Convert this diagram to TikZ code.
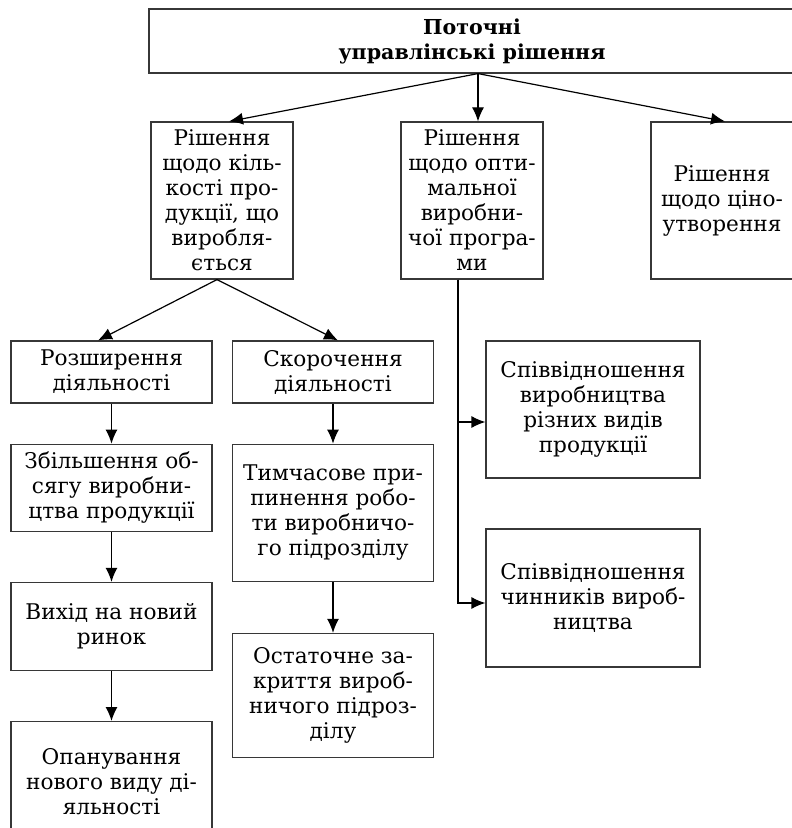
\documentclass[tikz,border=0pt]{standalone}
\usepackage{fontspec}
\setmainfont{DejaVu Serif}
\usetikzlibrary{arrows.meta,positioning,calc}
\definecolor{boxgray}{RGB}{55,55,55}

\begin{document}
\begin{tikzpicture}[
        x=0.5pt, y=-0.5pt,
        node distance=20pt,
        box/.style={rectangle, draw=boxgray, line width=0.6pt, inner sep=0pt, align=center,
            font=\fontsize{10.8pt}{12.5pt}\selectfont},
        topbox/.style={box, minimum width=71pt, minimum height=78.5pt},
        leftbox/.style={box, minimum width=100.5pt},
        sidebox/.style={box, minimum width=107pt},
        arrow/.style={-{Latex[length=7pt,width=6pt]}, line width=0.6pt}
    ]
        \useasboundingbox (0,0) rectangle (791,828);

        % Nodes
        \node[box, minimum width=323pt, minimum height=32pt,
            font=\fontsize{10.3pt}{12.5pt}\selectfont\bfseries] (root) at (472,41)
            {Поточні\\управлінські рішення};

        \node[topbox] (quant) at (222,200.5) {Рішення\\щодо кіль-\\кості про-\\дукції, що\\виробля-\\ється};
        \node[topbox] (prog) at (472,200.5) {Рішення\\щодо опти-\\мальної\\виробни-\\чої програ-\\ми};
        \node[topbox] (price) at (722,200.5) {Рішення\\щодо ціно-\\утворення};

        \node[leftbox, minimum height=31pt] (expand) at (111.5,372) {Розширення\\діяльності};
        \node[leftbox, minimum height=31pt] (shrink) at (333,372) {Скорочення\\діяльності};

        \node[leftbox, minimum height=43.5pt, below=of expand] (volume) {Збільшення об-\\сягу виробни-\\цтва продукції};
        \node[leftbox, minimum height=44pt, below=25pt of volume] (market) {Вихід на новий\\ринок};
        \node[leftbox, minimum height=60pt, below=25pt of market] (newact) {Опанування\\нового виду ді-\\яльності};

        \node[leftbox, minimum height=68.5pt, below=of shrink] (pause) {Тимчасове при-\\пинення робо-\\ти виробничо-\\го підрозділу};
        \node[leftbox, minimum height=62pt, below=25.5pt of pause] (close) {Остаточне за-\\криття вироб-\\ничого підроз-\\ділу};

        \node[sidebox, minimum height=68.5pt] (mix) at (593,409.5) {Співвідношення\\виробництва\\різних видів\\продукції};
        \node[sidebox, minimum height=69pt] (factors) at (593,598) {Співвідношення\\чинників вироб-\\ництва};

        % Arrows from the root
        \draw[arrow] ([xshift=3pt]root.south) -- ([xshift=3.5pt]quant.north);
        \draw[arrow] ([xshift=3pt]root.south) -- ([xshift=3pt]prog.north);
        \draw[arrow] ([xshift=3pt]root.south) -- ([xshift=1.5pt]price.north);

        % Quantity branch
        \draw[arrow] ([xshift=-2.5pt]quant.south) -- ([xshift=-6.75pt]expand.north);
        \draw[arrow] ([xshift=-2.5pt]quant.south) -- ([xshift=2.5pt]shrink.north);

        \draw[arrow] (expand) -- (volume);
        \draw[arrow] (volume) -- (market);
        \draw[arrow] (market) -- (newact);
        \draw[arrow] (shrink) -- (pause);
        \draw[arrow] (pause) -- (close);

        % Programme branch
        \coordinate (trunk) at ([xshift=-7pt]prog.south);
        \draw[arrow] (trunk) |- ([yshift=-6.25pt]mix.west);
        \draw[arrow] (trunk) |- ([yshift=-2.5pt]factors.west);

    \end{tikzpicture}
\end{document}
